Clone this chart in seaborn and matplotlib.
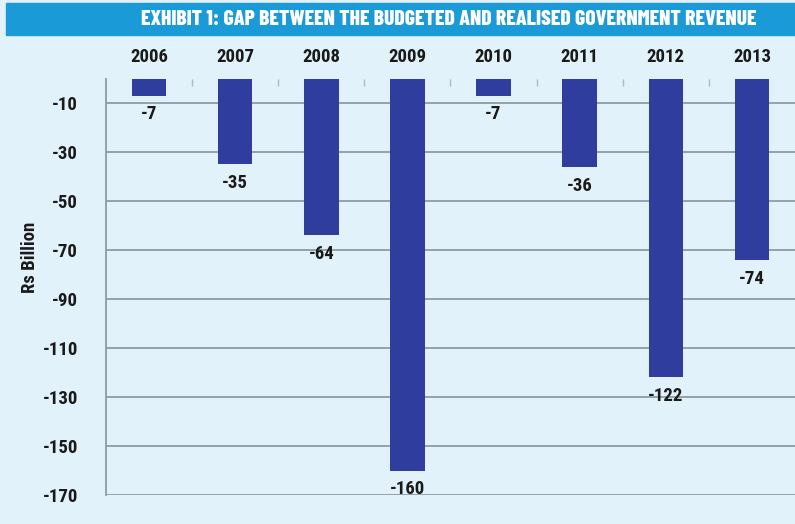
import matplotlib
matplotlib.use("Agg")
import matplotlib.pyplot as plt
import seaborn as sns
import pandas as pd
from matplotlib.patches import Rectangle

years = ["2006", "2007", "2008", "2009", "2010", "2011", "2012", "2013"]
gap = [-7, -35, -64, -160, -7, -36, -122, -74]
yticks = [-10, -30, -50, -70, -90, -110, -130, -150, -170]

title = "EXHIBIT 1: GAP BETWEEN THE BUDGETED AND REALISED GOVERNMENT REVENUE"
ylabel = "Rs Billion"

bg = "#e2f2fb"
bar_color = "#2f3e9e"
grid_color = "#8c9ca2"
text_color = "#1a1a1a"

sns.set_theme(style="white")
plt.rcParams["font.family"] = ["Roboto Condensed", "DejaVu Sans"]

df = pd.DataFrame({"year": years, "gap": gap})

fig = plt.figure(figsize=(7.95, 5.24), dpi=100, facecolor=bg)
ax = fig.add_axes([0.1333, 0.0553, 0.8667, 0.7947])
ax.set_facecolor(bg)

sns.barplot(data=df, x="year", y="gap", order=years, color=bar_color,
            saturation=1, width=0.4, linewidth=0, ax=ax, zorder=3)

ax.set_ylim(-170, 0)
ax.set_xlim(-0.5, len(years) - 0.5)
ax.set_yticks(yticks)
ax.set_yticklabels([str(t) for t in yticks], fontsize=13.5, fontweight="bold",
                   color=text_color)
ax.yaxis.grid(True, color=grid_color, linewidth=1.3, zorder=0)
ax.tick_params(axis="y", length=8, width=1.3, color=grid_color, pad=12)

# year labels on top
ax.xaxis.tick_top()
ax.set_xticks(range(len(years)))
ax.set_xticklabels(years, fontsize=13.5, fontweight="bold", color=text_color)
ax.tick_params(axis="x", length=0, pad=9)
ax.set_xticks([i + 0.5 for i in range(len(years) - 1)], minor=True)
ax.tick_params(axis="x", which="minor", direction="in", length=5,
               color="#b0b8bb", width=1, top=True, bottom=False)
ax.set_xlabel("")
ax.set_ylabel(ylabel, fontsize=13.5, fontweight="bold", color=text_color)
ax.yaxis.set_label_coords(-0.097, 0.57)

for s in ["top", "right", "bottom"]:
    ax.spines[s].set_visible(False)
ax.spines["left"].set_color(grid_color)
ax.spines["left"].set_linewidth(1.3)

for i, v in enumerate(gap):
    ax.annotate(str(v), (i, v), xytext=(0, -7), textcoords="offset points",
                ha="center", va="top", fontsize=13.5, fontweight="bold",
                color=text_color)

# banner
fig.patches.append(Rectangle((0.008, 0.933), 0.992, 0.062,
                             transform=fig.transFigure, color="#1b9ad8",
                             zorder=0))
fig.text(0.564, 0.962, title, ha="center", va="center", color="white",
         fontsize=15.5, fontweight="heavy",
         family=["Barlow Condensed", "DejaVu Sans"])

fig.savefig("out.png", dpi=100, facecolor=bg)
